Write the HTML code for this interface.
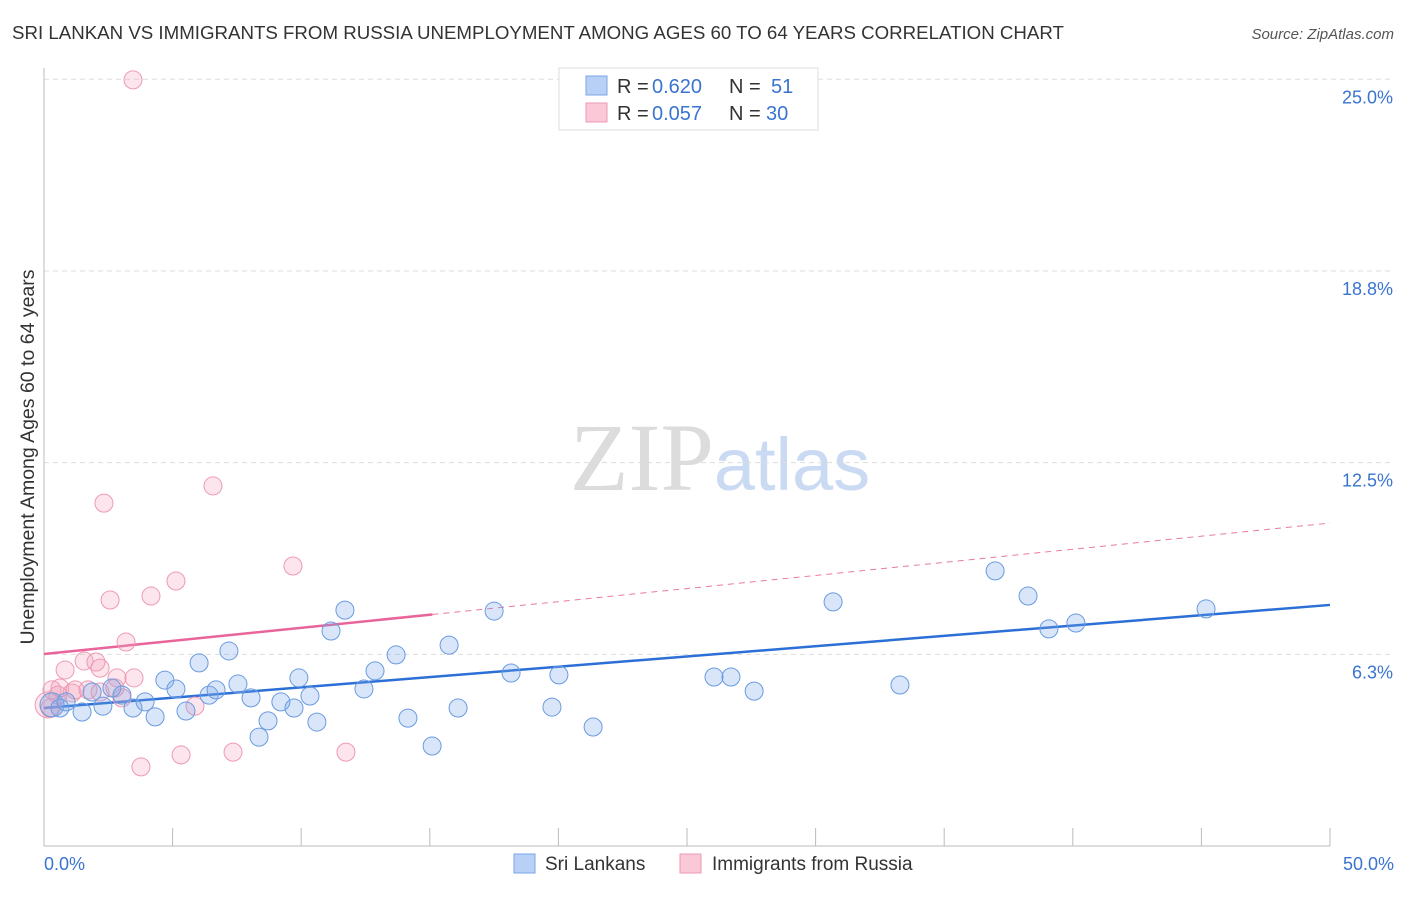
<!DOCTYPE html>
<html><head><meta charset="utf-8"><style>
body{margin:0;background:#fff;font-family:"Liberation Sans",sans-serif;}
svg text{font-family:"Liberation Sans",sans-serif;white-space:pre;}
</style></head><body>
<svg id="chart" width="1406" height="892" xmlns="http://www.w3.org/2000/svg">
<text x="12" y="39" font-size="18.7" fill="#333">SRI LANKAN VS IMMIGRANTS FROM RUSSIA UNEMPLOYMENT AMONG AGES 60 TO 64 YEARS CORRELATION CHART</text>
<text x="1394" y="39" font-size="15" fill="#555" text-anchor="end" font-style="italic">Source: ZipAtlas.com</text>
<text x="720" y="490" font-size="96" text-anchor="middle"><tspan fill="#dcdcdc" font-family="Liberation Serif">ZIP</tspan><tspan fill="#c9daf2" font-size="74">atlas</tspan></text>
<text transform="translate(34,457) rotate(-90)" font-size="19.5" fill="#333" text-anchor="middle">Unemployment Among Ages 60 to 64 years</text>
<g id="grid"></g><g id="axes"></g><g id="trends"></g><g id="pts"></g>
<g>
<rect x="559" y="68" width="259" height="62" fill="#fff" stroke="#ddd"/>
<rect x="586" y="76" width="21" height="19" fill="#b8d0f5" stroke="#7aa6e6"/>
<rect x="586" y="103" width="21" height="19" fill="#fbc8d8" stroke="#ee9ab5"/>
<text x="617" y="93" font-size="20" fill="#333">R = </text><text x="652" y="93" font-size="20" fill="#3a74d0">0.620</text>
<text x="729" y="93" font-size="20" fill="#333">N = </text><text x="771" y="93" font-size="20" fill="#3a74d0">51</text>
<text x="617" y="120" font-size="20" fill="#333">R = </text><text x="652" y="120" font-size="20" fill="#3a74d0">0.057</text>
<text x="729" y="120" font-size="20" fill="#333">N = </text><text x="766" y="120" font-size="20" fill="#3a74d0">30</text>
</g>
<g>
<rect x="514" y="854" width="21" height="19" fill="#b8d0f5" stroke="#7aa6e6"/>
<text x="545" y="870" font-size="19" fill="#333">Sri Lankans</text>
<rect x="680" y="854" width="21" height="19" fill="#fbc8d8" stroke="#ee9ab5"/>
<text x="712" y="870" font-size="19" fill="#333">Immigrants from Russia</text>
</g>
</svg>
<script>
const yTicks=[6.25,12.5,18.75,25];
const yTickLabels=["6.3%","12.5%","18.8%","25.0%"];
const xTickLabels=["0.0%","50.0%"];
const blueX=[0.31,0.62,0.86,1.48,1.87,2.29,2.64,3.03,3.46,3.93,4.32,4.70,5.13,5.52,6.03,6.42,6.69,7.19,7.54,8.05,8.36,8.71,9.21,9.72,9.91,10.34,10.61,11.16,11.70,12.44,12.87,13.69,14.15,15.09,15.75,16.10,17.50,18.16,19.75,20.02,21.35,26.05,26.71,27.61,30.68,33.28,36.98,38.26,39.07,40.12,45.18];
const blueY=[4.60,4.50,4.70,4.37,5.02,4.56,5.15,4.92,4.50,4.70,4.21,5.41,5.12,4.40,5.97,4.92,5.09,6.36,5.28,4.83,3.55,4.08,4.70,4.50,5.48,4.89,4.04,7.01,7.69,5.12,5.71,6.23,4.17,3.26,6.55,4.50,7.66,5.64,4.53,5.58,3.88,5.51,5.51,5.05,7.96,5.25,8.97,8.15,7.08,7.27,7.73];
const pinkX=[0.16,0.31,0.62,0.82,1.09,1.56,2.02,2.18,2.33,2.57,2.84,3.03,3.19,3.46,3.50,3.77,4.16,5.13,5.33,5.87,6.57,7.35,9.68,11.74,1.21,1.71,0.54,2.18,2.76,0.23];
const pinkY=[4.60,5.09,5.15,5.74,4.99,6.03,6.00,5.80,11.18,8.02,5.48,4.83,6.65,24.98,5.48,2.58,8.15,8.64,2.97,4.56,11.74,3.06,9.13,3.06,5.09,5.09,4.92,5.02,5.15,4.50];
const blueTrend=[4.50,7.86];   // y at x=0 and x=50
const pinkTrend=[6.26,10.53];  // y at x=0 and x=50
const pinkSolidEnd=15.1;
const X=v=>44+v/50*1286, Y=v=>846-v*30.67;
const NS="http://www.w3.org/2000/svg";
function mk(tag,attrs,parent){const e=document.createElementNS(NS,tag);for(const k in attrs)e.setAttribute(k,attrs[k]);document.getElementById(parent).appendChild(e);return e;}
yTicks.forEach((t,i)=>{
  const l=mk('line',{x1:44,x2:1394,y1:Y(t),y2:Y(t),stroke:'#ddd','stroke-dasharray':'5,4'},'grid');
  
  
  const tx=mk('text',{x:1393,y:Y(t)+24,'font-size':18,fill:'#3a74d0','text-anchor':'end'},'grid');
  tx.textContent=yTickLabels[i];
  
  
});
const ax=mk('line',{x1:44,x2:44,y1:68,y2:846,stroke:'#bbb'},'axes');


const bx=mk('line',{x1:44,x2:1330,y1:846,y2:846,stroke:'#bbb'},'axes');


for(let i=0;i<=10;i++){const t=mk('line',{x1:X(i*5),x2:X(i*5),y1:828,y2:846,stroke:'#bbb'},'axes');
  
  }
[[0,'start',44],[50,'end',1394]].forEach((d,i)=>{const t=mk('text',{x:d[2],y:870,'font-size':18,fill:'#3a74d0','text-anchor':d[1]},'axes');t.textContent=xTickLabels[i];
  
  });
function pt(x,y,c,s,r){const e=mk('circle',{cx:X(x),cy:Y(y),r:r,fill:c,stroke:s,'stroke-width':1},'pts');return e;}
pinkX.forEach((x,i)=>{const e=pt(x,pinkY[i],'rgba(244,160,188,0.28)','#ee9ab5',i==0?13:9);
  
  });
blueX.forEach((x,i)=>{const e=pt(x,blueY[i],'rgba(120,165,235,0.28)','#6a9be0',i==0?12:9);
  
  });
const pr=v=>pinkTrend[0]+(pinkTrend[1]-pinkTrend[0])*v/50;
const pd=mk('line',{x1:X(pinkSolidEnd),y1:Y(pr(pinkSolidEnd)),x2:X(50),y2:Y(pinkTrend[1]),stroke:'#e87aa0','stroke-width':1,'stroke-dasharray':'6,5'},'trends');


const ps=mk('line',{x1:X(0),y1:Y(pinkTrend[0]),x2:X(pinkSolidEnd),y2:Y(pr(pinkSolidEnd)),stroke:'#e8649a','stroke-width':2.5},'trends');


const bl=mk('line',{x1:X(0),y1:Y(blueTrend[0]),x2:X(50),y2:Y(blueTrend[1]),stroke:'#2c6fd6','stroke-width':2.5},'trends');


</script>
</body></html>
